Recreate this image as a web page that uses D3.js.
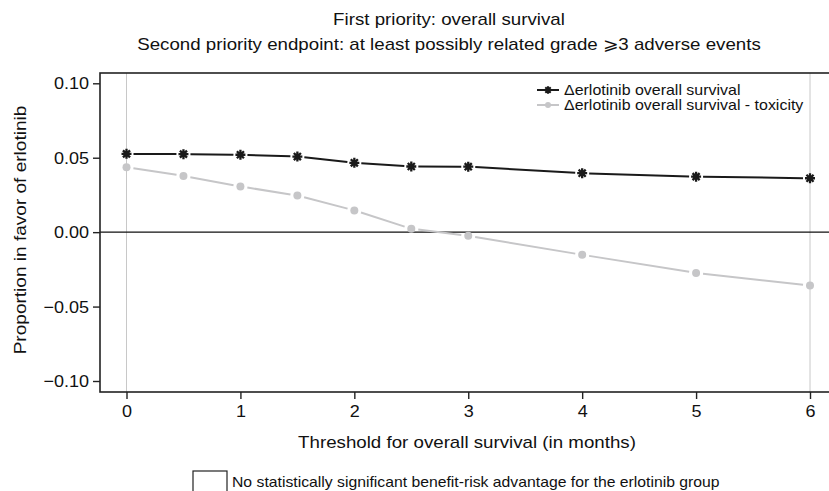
<!DOCTYPE html>
<html>
<head>
<meta charset="utf-8">
<script src="https://cdn.jsdelivr.net/npm/d3@7"></script>
<style>
  body { margin: 0; background: #fff; }
  text { font-family: "Liberation Sans", Arial, sans-serif; fill: #111; }
</style>
</head>
<body>
<svg width="829" height="491"></svg>
<script>
// thresholds (months) and the two net benefit curves
let thresholds = [0, 0.5, 1, 1.5, 2, 2.5, 3, 4, 5, 6];
let survival = [0.0526, 0.0524, 0.0520, 0.0508, 0.0466, 0.0441, 0.0440, 0.0396, 0.0373, 0.0362];
let survivalTox = [0.0436, 0.0378, 0.0307, 0.0246, 0.0146, 0.0023, -0.0025, -0.0152, -0.0274, -0.0359];
let xTicks = [0, 1, 2, 3, 4, 5, 6];
let yTicks = [-0.10, -0.05, 0, 0.05, 0.10];

var svg = d3.select("svg");

var x = d3.scaleLinear().domain([0, 6]).range([126.5, 810]);
var y = d3.scaleLinear().domain([-0.1, 0.1]).range([381, 83.3]);

var frame = {left: 100, top: 73, bottom: 392, right: 840};

// the original type is a bit wider than Liberation Sans, stretch it sideways
function stretch(sel, f) {
    sel.each(function() {
        var w = this.getComputedTextLength();
        d3.select(this).attr("textLength", w * f).attr("lengthAdjust", "spacingAndGlyphs");
    });
}

// titles
svg.append("text").attr("x", 449).attr("y", 25).attr("text-anchor", "middle")
    .style("font-size", "17px").text("First priority: overall survival").call(stretch, 1.1);
svg.append("text").attr("x", 449).attr("y", 50).attr("text-anchor", "middle")
    .style("font-size", "17px").text("Second priority endpoint: at least possibly related grade \u2A7E3 adverse events").call(stretch, 1.1);

// reference lines at 0 and 6 months
svg.selectAll(".vref").data([0, 6]).enter().append("line")
    .attr("x1", d => x(d)).attr("x2", d => x(d))
    .attr("y1", frame.top).attr("y2", frame.bottom)
    .attr("stroke", "#c8c8c8").attr("stroke-width", 1);

// zero line
svg.append("line").attr("x1", frame.left).attr("x2", frame.right)
    .attr("y1", y(0)).attr("y2", y(0))
    .attr("stroke", "#111").attr("stroke-width", 1.4);

// frame
svg.append("rect").attr("x", frame.left).attr("y", frame.top)
    .attr("width", frame.right - frame.left).attr("height", frame.bottom - frame.top)
    .attr("fill", "none").attr("stroke", "#222").attr("stroke-width", 1.6);

// axes
var xAxis = d3.axisBottom(x).tickValues(xTicks).tickSize(7).tickPadding(6).tickFormat(d3.format("d"));
var gx = svg.append("g").attr("transform", "translate(0," + frame.bottom + ")").call(xAxis);
gx.select(".domain").remove();
gx.selectAll("line").attr("stroke", "#222").attr("stroke-width", 1.4);
gx.selectAll("text").style("font-size", "17px").style("font-family", "Liberation Sans, Arial, sans-serif")
    .attr("fill", "#111").call(stretch, 1.06);

var yAxis = d3.axisLeft(y).tickValues(yTicks).tickSize(7).tickPadding(4)
    .tickFormat(d => d3.format(".2f")(d).replace("-", "\u2212"));
var gy = svg.append("g").attr("transform", "translate(" + frame.left + ",0)").call(yAxis);
gy.select(".domain").remove();
gy.selectAll("line").attr("stroke", "#222").attr("stroke-width", 1.4);
gy.selectAll("text").style("font-size", "17px").style("font-family", "Liberation Sans, Arial, sans-serif")
    .attr("fill", "#111").call(stretch, 1.06);

svg.append("text").attr("x", 467).attr("y", 448).attr("text-anchor", "middle")
    .style("font-size", "17px").text("Threshold for overall survival (in months)").call(stretch, 1.1);
svg.append("text").attr("transform", "translate(26,230) rotate(-90)").attr("text-anchor", "middle")
    .style("font-size", "17px").text("Proportion in favor of erlotinib").call(stretch, 1.12);

// asterisk marker path
function asterisk(r) {
    var p = "", k;
    for (k = 0; k < 4; k++) {
        var a = k * Math.PI / 4;
        var dx = r * Math.cos(a), dy = r * Math.sin(a);
        p += "M" + (-dx) + "," + (-dy) + "L" + dx + "," + dy;
    }
    return p;
}

// line drawn as segments with a gap round each marker
function drawSeries(values, color, marker) {
    var pts = thresholds.map((t, i) => [x(t), y(values[i])]);
    var segs = d3.pairs(pts);
    var gap = 7;
    function off(d) {
        var len = Math.hypot(d[1][0] - d[0][0], d[1][1] - d[0][1]);
        return [gap * (d[1][0] - d[0][0]) / len, gap * (d[1][1] - d[0][1]) / len];
    }
    svg.append("g").selectAll("line").data(segs).enter().append("line")
        .attr("x1", d => d[0][0] + off(d)[0])
        .attr("y1", d => d[0][1] + off(d)[1])
        .attr("x2", d => d[1][0] - off(d)[0])
        .attr("y2", d => d[1][1] - off(d)[1])
        .attr("stroke", color).attr("stroke-width", 2);
    var g = svg.append("g");
    if (marker == "star") {
        g.selectAll("path").data(pts).enter().append("path")
            .attr("transform", d => "translate(" + d[0] + "," + d[1] + ")")
            .attr("d", asterisk(5)).attr("stroke", color).attr("stroke-width", 2.3);
    } else {
        g.selectAll("circle").data(pts).enter().append("circle")
            .attr("cx", d => d[0]).attr("cy", d => d[1]).attr("r", 4).attr("fill", color);
    }
}

drawSeries(survivalTox, "#c6c6c8", "dot");
drawSeries(survival, "#1a1a1a", "star");

// legend (upper right)
var legend = [
    {label: "\u0394erlotinib overall survival", color: "#1a1a1a", marker: "star"},
    {label: "\u0394erlotinib overall survival - toxicity", color: "#c6c6c8", marker: "dot"}
];
var lg = svg.append("g").attr("transform", "translate(537,90)");
legend.forEach(function(d, i) {
    var row = lg.append("g").attr("transform", "translate(0," + (i * 15) + ")");
    row.append("line").attr("x1", 0).attr("x2", 22).attr("y1", 0).attr("y2", 0)
        .attr("stroke", d.color).attr("stroke-width", 2);
    if (d.marker == "star") {
        row.append("path").attr("transform", "translate(11,0)").attr("d", asterisk(3.8))
            .attr("stroke", d.color).attr("stroke-width", 2);
    } else {
        row.append("circle").attr("cx", 11).attr("cy", 0).attr("r", 3).attr("fill", d.color);
    }
    row.append("text").attr("x", 27).attr("y", 5).style("font-size", "14.5px").text(d.label).call(stretch, 1.1);
});

// bottom legend box
svg.append("rect").attr("x", 193).attr("y", 471).attr("width", 34).attr("height", 30)
    .attr("fill", "none").attr("stroke", "#222").attr("stroke-width", 1.2);
svg.append("text").attr("x", 232).attr("y", 487).style("font-size", "15px")
    .text("No statistically significant benefit-risk advantage for the erlotinib group").call(stretch, 1.05);
</script>
</body>
</html>
